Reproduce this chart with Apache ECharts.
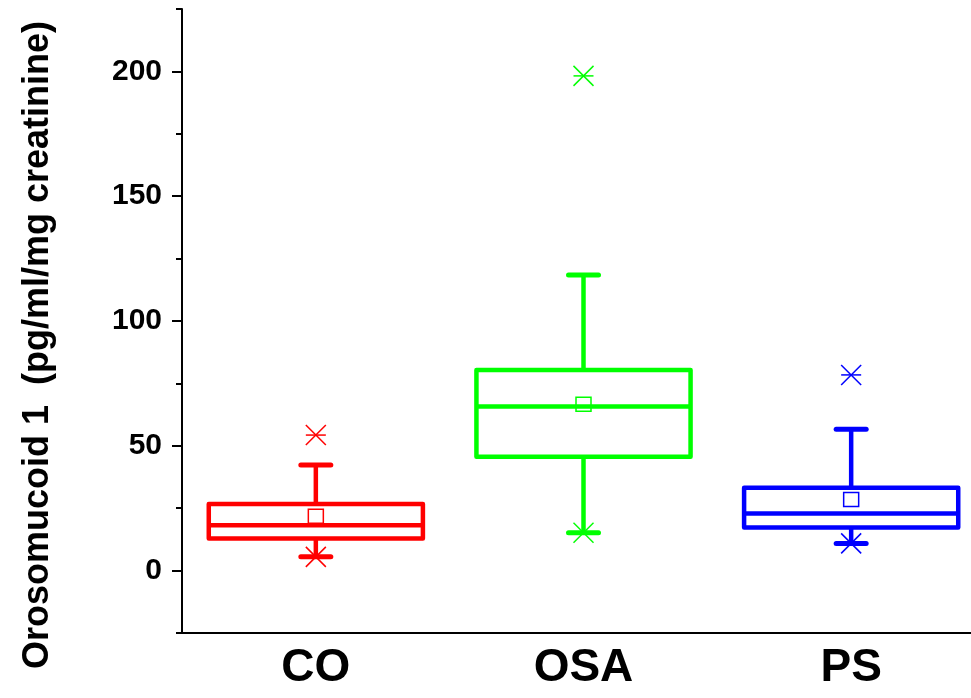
<!DOCTYPE html>
<html><head><meta charset="utf-8">
<script src="https://cdn.jsdelivr.net/npm/echarts@6/dist/echarts.min.js"></script>
<style>html,body{margin:0;padding:0;background:#fff}#c{width:971px;height:698px}</style>
</head><body><div id="c"></div>
<script>
const categories = ['CO', 'OSA', 'PS'];
const whiskerLow = [5.5, 15.2, 10.9];
const q1 = [12.9, 45.6, 17.3];
const median = [18.2, 65.7, 22.9];
const q3 = [26.7, 80.4, 33.2];
const whiskerHigh = [42.3, 118.4, 56.6];
const mean = [21.8, 66.6, 28.5];
const outlierHigh = [54.3, 198.2, 78.4];
const outlierLow = [5.5, 15.2, 10.9];
const yMajorTicks = [0, 50, 100, 150, 200];
const yMinorTicks = [-25, 25, 75, 125, 175, 225];
const yTitle = 'Orosomucoid 1  (pg/ml/mg creatinine)';
const colors = ['#ff0000', '#00ff00', '#0000ff'];

const boxData = categories.map((c, i) => [i, whiskerLow[i], q1[i], median[i], q3[i], whiskerHigh[i], mean[i], outlierHigh[i], outlierLow[i]]);

function renderBox(params, api) {
  const i = api.value(0);
  const col = colors[i];
  const bw = api.size([1, 0])[0] * 0.8;
  const p = k => api.coord([i, api.value(k)]);
  const lo = p(1), b1 = p(2), md = p(3), b3 = p(4), hi = p(5), mn = p(6), oh = p(7), ol = p(8);
  const x = lo[0];
  const half = bw / 2;
  const lw = 4.5;
  const capW = 30;
  const ch = [];
  const line = (x1, y1, x2, y2, w, cap) => ({type: 'line', shape: {x1, y1, x2, y2}, style: {stroke: col, lineWidth: w, lineCap: cap || 'butt'}});
  ch.push(line(x, hi[1], x, b3[1], lw));
  ch.push(line(x, b1[1], x, lo[1], lw));
  ch.push(line(x - capW / 2, hi[1], x + capW / 2, hi[1], 5, 'round'));
  ch.push(line(x - capW / 2, lo[1], x + capW / 2, lo[1], 5, 'round'));
  ch.push({type: 'rect', shape: {x: x - half, y: b3[1], width: bw, height: b1[1] - b3[1]}, style: {fill: 'none', stroke: col, lineWidth: lw, lineJoin: 'round'}});
  ch.push(line(x - half, md[1], x + half, md[1], lw));
  ch.push({type: 'rect', shape: {x: x - 7.5, y: mn[1] - 7, width: 15, height: 14}, style: {fill: 'none', stroke: col, lineWidth: 1.5}});
  const s = 10;
  ch.push(line(oh[0] - s, oh[1] - s, oh[0] + s, oh[1] + s, 1.5));
  ch.push(line(oh[0] - s, oh[1] + s, oh[0] + s, oh[1] - s, 1.5));
  ch.push(line(oh[0] - s, oh[1], oh[0] + s, oh[1], 1.5));
  ch.push(line(ol[0] - s, ol[1] - s, ol[0] + s, ol[1] + s, 1.5));
  ch.push(line(ol[0] - s, ol[1] + s, ol[0] + s, ol[1] - s, 1.5));
  return {type: 'group', children: ch};
}

const chart = echarts.init(document.getElementById('c'), null, {renderer: 'canvas'});
const font = 'Liberation Sans';
chart.setOption({
  animation: false,
  backgroundColor: '#fff',
  grid: {left: 182, right: -14, top: 9, bottom: 65, containLabel: false, outerBoundsMode: 'none'},
  xAxis: {
    type: 'category', data: categories,
    axisLine: {onZero: false, lineStyle: {color: '#000', width: 2}},
    axisTick: {alignWithLabel: true, length: 12, lineStyle: {color: '#000', width: 2}},
    axisLabel: {margin: 12, color: '#000', fontFamily: font, fontWeight: 'bold', fontSize: 46}
  },
  yAxis: [{
    type: 'value', min: -25, max: 225,
    splitLine: {show: false},
    axisLine: {show: true, lineStyle: {color: '#000', width: 2}},
    axisTick: {show: true, length: 10, customValues: yMajorTicks, lineStyle: {color: '#000', width: 2}},
    axisLabel: {customValues: yMajorTicks, margin: 20, color: '#000', fontFamily: font, fontWeight: 'bold', fontSize: 30}
  }, {
    type: 'value', min: -25, max: 225, position: 'left',
    splitLine: {show: false},
    axisLine: {show: false},
    axisTick: {show: true, length: 6, customValues: yMinorTicks, lineStyle: {color: '#000', width: 2}},
    axisLabel: {show: false}
  }],
  graphic: [{
    type: 'text', x: 38, y: 345, rotation: Math.PI / 2,
    style: {text: yTitle, fill: '#000', font: 'bold 36px "Liberation Sans"', align: 'center', verticalAlign: 'middle'}
  }],
  series: [{
    type: 'custom', renderItem: renderBox, data: boxData, clip: false,
    encode: {x: 0, y: [1, 2, 3, 4, 5, 6, 7, 8]}
  }]
});
</script></body></html>
